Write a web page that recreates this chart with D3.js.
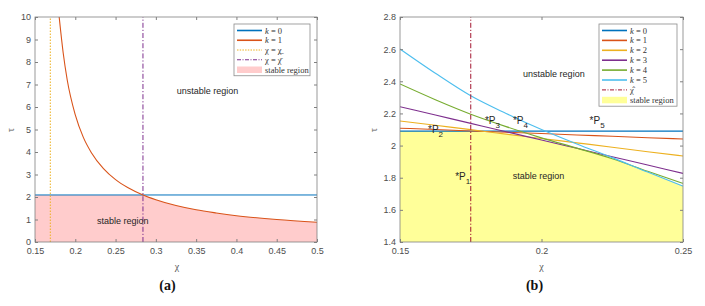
<!DOCTYPE html>
<html lang="en">
<head>
  <meta charset="UTF-8" />
  <title>Stability regions</title>
  <script src="https://cdn.jsdelivr.net/npm/d3@7"></script>
  <style>
    body {
      margin: 0;
      background-color: #fff;
    }

    svg {
      display: block;
      background-color: white;
      font-family: "Liberation Sans", Arial, sans-serif;
    }

    .tick text {
      font-size: 9px;
      fill: #4d4d4d;
    }

    .tick line {
      stroke: #808080;
    }

    .frame {
      fill: none;
      stroke: #808080;
      stroke-width: 0.8px;
    }

    .note {
      font-size: 9px;
      fill: #262626;
    }

    .legend text {
      font-family: "Liberation Serif", "Times New Roman", serif;
      font-size: 8.5px;
      fill: #333;
    }

    .axis-label {
      font-family: "Liberation Serif", serif;
      font-size: 10px;
      fill: #555;
    }

    .caption {
      font-family: "Liberation Serif", "Times New Roman", serif;
      font-weight: bold;
      font-size: 14px;
      fill: #111;
    }
  </style>
</head>
<body>
  <div id="chart"></div>

  <script>
    // ---- panel (a) ----
    const xTicksA = [0.15, 0.2, 0.25, 0.3, 0.35, 0.4, 0.45, 0.5];
    const yTicksA = [0, 1, 2, 3, 4, 5, 6, 7, 8, 9, 10];
    const tauK0A = 2.09;
    const chiK1A = [0.18, 0.185, 0.19, 0.2, 0.21, 0.22, 0.235, 0.25, 0.265, 0.284, 0.3, 0.325, 0.35, 0.375, 0.4, 0.45, 0.5];
    const tauK1A = [10, 8.4, 7.2, 5.65, 4.65, 3.97, 3.26, 2.77, 2.42, 2.09, 1.88, 1.62, 1.43, 1.29, 1.17, 1.0, 0.88];
    const chiLowA = 0.169;   // χ = χ_
    const chiBarA = 0.284;   // χ = χ̄
    const legendA = ["k = 0", "k = 1", "χ = χ\u0332", "χ = χ\u0304", "stable region"];
    const notesA = [
      { text: "unstable region", chi: 0.326, tau: 6.56 },
      { text: "stable region", chi: 0.227, tau: 0.78 }
    ];

    // ---- panel (b) ----
    const xTicksB = [0.15, 0.2, 0.25];
    const yTicksB = [1.4, 1.6, 1.8, 2, 2.2, 2.4, 2.6, 2.8];
    const chiB = [0.15, 0.1625, 0.175, 0.1875, 0.2, 0.2125, 0.225, 0.2375, 0.25];
    const tauB = [
      [2.09, 2.09, 2.09, 2.09, 2.09, 2.09, 2.09, 2.09, 2.09],
      [2.108, 2.100, 2.091, 2.083, 2.075, 2.066, 2.058, 2.049, 2.041],
      [2.153, 2.126, 2.099, 2.071, 2.044, 2.017, 1.990, 1.962, 1.935],
      [2.242, 2.190, 2.138, 2.086, 2.035, 1.983, 1.931, 1.879, 1.827],
      [2.383, 2.285, 2.195, 2.118, 2.048, 1.984, 1.918, 1.840, 1.765],
      [2.601, 2.450, 2.310, 2.200, 2.100, 2.010, 1.925, 1.835, 1.748]
    ];
    const chiHatB = 0.175;
    const legendB = ["k = 0", "k = 1", "k = 2", "k = 3", "k = 4", "k = 5", "χ\u0302", "stable region"];
    const notesB = [
      { text: "unstable region", chi: 0.1935, tau: 2.427 },
      { text: "stable region", chi: 0.1898, tau: 1.79 }
    ];
    const pointsB = [
      { name: "1", chi: 0.1695, tau: 1.786 },
      { name: "2", chi: 0.1599, tau: 2.078 },
      { name: "3", chi: 0.18, tau: 2.137 },
      { name: "4", chi: 0.1899, tau: 2.137 },
      { name: "5", chi: 0.217, tau: 2.137 }
    ];

    const colors = ["#0072BD", "#D95319", "#EDB120", "#7E2F8E", "#77AC30", "#4DBEEE", "#A2142F"];

    const width = 705;
    const height = 306;

    const svg = d3.select("#chart")
      .append("svg")
      .attr("width", width)
      .attr("height", height);

    function frame(x, y, xTicks, yTicks) {
      const [x0, x1] = x.range();
      const [y0, y1] = y.range();
      const fmt = d => String(d);

      svg.append("g")
        .attr("transform", `translate(0, ${y0})`)
        .call(d3.axisBottom(x).tickValues(xTicks).tickSizeInner(-3).tickSizeOuter(0).tickPadding(6).tickFormat(fmt))
        .call(g => g.select(".domain").remove());
      svg.append("g")
        .attr("transform", `translate(0, ${y1})`)
        .call(d3.axisTop(x).tickValues(xTicks).tickSizeInner(-3).tickSizeOuter(0).tickFormat(""))
        .call(g => g.select(".domain").remove());
      svg.append("g")
        .attr("transform", `translate(${x0}, 0)`)
        .call(d3.axisLeft(y).tickValues(yTicks).tickSizeInner(-3).tickSizeOuter(0).tickPadding(4).tickFormat(fmt))
        .call(g => g.select(".domain").remove());
      svg.append("g")
        .attr("transform", `translate(${x1}, 0)`)
        .call(d3.axisRight(y).tickValues(yTicks).tickSizeInner(-3).tickSizeOuter(0).tickFormat(""))
        .call(g => g.select(".domain").remove());

      svg.append("rect")
        .attr("class", "frame")
        .attr("x", x0)
        .attr("y", y1)
        .attr("width", x1 - x0)
        .attr("height", y0 - y1);
    }

    function clip(id, x, y) {
      const [x0, x1] = x.range();
      const [y0, y1] = y.range();
      svg.append("clipPath").attr("id", id)
        .append("rect")
        .attr("x", x0).attr("y", y1)
        .attr("width", x1 - x0).attr("height", y0 - y1);
      return svg.append("g").attr("clip-path", `url(#${id})`);
    }

    function legendLabel(text, str) {
      if (str.startsWith("k")) {
        text.append("tspan").attr("font-style", "italic").text("k");
        text.append("tspan").text(str.slice(1));
      } else {
        text.text(str);
      }
    }

    function legend(x0, y0, w, rowH, labels, styles) {
      const g = svg.append("g").attr("class", "legend");
      g.append("rect")
        .attr("x", x0).attr("y", y0)
        .attr("width", w).attr("height", rowH * labels.length + 3)
        .attr("fill", "white")
        .attr("stroke", "#8c8c8c")
        .attr("stroke-width", 0.8);
      labels.forEach((lab, i) => {
        const cy = y0 + 6.5 + i * rowH;
        const s = styles[i];
        if (s.patch) {
          g.append("rect")
            .attr("x", x0 + 3).attr("y", cy - 3)
            .attr("width", 25).attr("height", 6.5)
            .attr("fill", s.patch);
        } else {
          g.append("line")
            .attr("x1", x0 + 3).attr("x2", x0 + 28)
            .attr("y1", cy).attr("y2", cy)
            .attr("stroke", s.color)
            .attr("stroke-width", s.dash ? 1 : 1.6)
            .attr("stroke-dasharray", s.dash || null);
        }
        const t = g.append("text")
          .attr("x", x0 + 31)
          .attr("y", cy + 3);
        legendLabel(t, lab);
      });
    }

    // ================= panel (a) =================
    const xA = d3.scaleLinear().domain([0.15, 0.5]).range([35, 317]);
    const yA = d3.scaleLinear().domain([0, 10]).range([242, 17]);
    const plotA = clip("clipA", xA, yA);

    const k1A = chiK1A.map((c, i) => ({ chi: c, tau: tauK1A[i] }));
    const stableA = [{ chi: 0.15, tau: tauK0A }].concat(k1A.map(d => ({ chi: d.chi, tau: Math.min(d.tau, tauK0A) })));

    plotA.append("path")
      .datum(stableA)
      .attr("fill", "#ffcccc")
      .attr("d", d3.area()
        .x(d => xA(d.chi))
        .y0(yA(0))
        .y1(d => yA(d.tau))
        .curve(d3.curveMonotoneX));

    plotA.append("line")
      .attr("x1", xA(0.15)).attr("x2", xA(0.5))
      .attr("y1", yA(tauK0A)).attr("y2", yA(tauK0A))
      .attr("stroke", colors[0]).attr("stroke-width", 1);

    plotA.append("path")
      .datum(k1A)
      .attr("fill", "none")
      .attr("stroke", colors[1])
      .attr("stroke-width", 1.1)
      .attr("d", d3.line().x(d => xA(d.chi)).y(d => yA(d.tau)).curve(d3.curveMonotoneX));

    plotA.append("line")
      .attr("x1", xA(chiLowA)).attr("x2", xA(chiLowA))
      .attr("y1", yA(0)).attr("y2", yA(10))
      .attr("stroke", colors[2]).attr("stroke-width", 1)
      .attr("stroke-dasharray", "1.5,1.5");

    plotA.append("line")
      .attr("x1", xA(chiBarA)).attr("x2", xA(chiBarA))
      .attr("y1", yA(0)).attr("y2", yA(10))
      .attr("stroke", colors[3]).attr("stroke-width", 1)
      .attr("stroke-dasharray", "5,2,1.2,2");

    frame(xA, yA, xTicksA, yTicksA);

    svg.selectAll(".noteA")
      .data(notesA)
      .enter()
      .append("text")
      .attr("class", "note")
      .attr("x", d => xA(d.chi))
      .attr("y", d => yA(d.tau))
      .text(d => d.text);

    legend(234, 24, 76, 9.75, legendA, [
      { color: colors[0] },
      { color: colors[1] },
      { color: colors[2], dash: "1.5,1.2" },
      { color: colors[3], dash: "4,1.5,1,1.5" },
      { patch: "#ffcccc" }
    ]);

    svg.append("text").attr("class", "axis-label")
      .attr("x", 177).attr("y", 270).attr("text-anchor", "middle").text("χ");
    svg.append("text").attr("class", "axis-label")
      .attr("transform", "translate(14, 130) rotate(-90)")
      .attr("text-anchor", "middle").text("τ");
    svg.append("text").attr("class", "caption")
      .attr("x", 167.5).attr("y", 290).attr("text-anchor", "middle").text("(a)");

    // ================= panel (b) =================
    const xB = d3.scaleLinear().domain([0.15, 0.25]).range([400, 683]);
    const yB = d3.scaleLinear().domain([1.4, 2.8]).range([242, 17]);
    const plotB = clip("clipB", xB, yB);

    const seriesB = tauB.map(vals => chiB.map((c, i) => ({ chi: c, tau: vals[i] })));
    const stableB = chiB.map((c, i) => ({ chi: c, tau: d3.min(tauB, vals => vals[i]) }));

    plotB.append("path")
      .datum(stableB)
      .attr("fill", "#ffff99")
      .attr("d", d3.area()
        .x(d => xB(d.chi))
        .y0(yB(1.4))
        .y1(d => yB(d.tau)));

    const lineB = d3.line().x(d => xB(d.chi)).y(d => yB(d.tau)).curve(d3.curveMonotoneX);

    plotB.selectAll(".kline")
      .data(seriesB)
      .enter()
      .append("path")
      .attr("class", "kline")
      .attr("fill", "none")
      .attr("stroke", (d, i) => colors[i])
      .attr("stroke-width", 1.1)
      .attr("d", lineB);

    plotB.append("line")
      .attr("x1", xB(chiHatB)).attr("x2", xB(chiHatB))
      .attr("y1", yB(1.4)).attr("y2", yB(2.8))
      .attr("stroke", colors[6]).attr("stroke-width", 1)
      .attr("stroke-dasharray", "5,2,1.2,2");

    frame(xB, yB, xTicksB, yTicksB);

    svg.selectAll(".noteB")
      .data(notesB)
      .enter()
      .append("text")
      .attr("class", "note")
      .attr("x", d => xB(d.chi))
      .attr("y", d => yB(d.tau))
      .text(d => d.text);

    const pts = svg.selectAll(".pt")
      .data(pointsB)
      .enter()
      .append("text")
      .attr("class", "note")
      .style("font-size", "10px")
      .attr("x", d => xB(d.chi))
      .attr("y", d => yB(d.tau));
    pts.append("tspan").text("*P");
    pts.append("tspan").attr("dy", 4).style("font-size", "8px").text(d => d.name);

    legend(599, 24, 78, 9.9, legendB, [
      { color: colors[0] },
      { color: colors[1] },
      { color: colors[2] },
      { color: colors[3] },
      { color: colors[4] },
      { color: colors[5] },
      { color: colors[6], dash: "4,1.5,1,1.5" },
      { patch: "#ffff99" }
    ]);

    svg.append("text").attr("class", "axis-label")
      .attr("x", 541.5).attr("y", 270).attr("text-anchor", "middle").text("χ");
    svg.append("text").attr("class", "axis-label")
      .attr("transform", "translate(377, 130) rotate(-90)")
      .attr("text-anchor", "middle").text("τ");
    svg.append("text").attr("class", "caption")
      .attr("x", 534.5).attr("y", 290).attr("text-anchor", "middle").text("(b)");
  </script>
</body>
</html>
